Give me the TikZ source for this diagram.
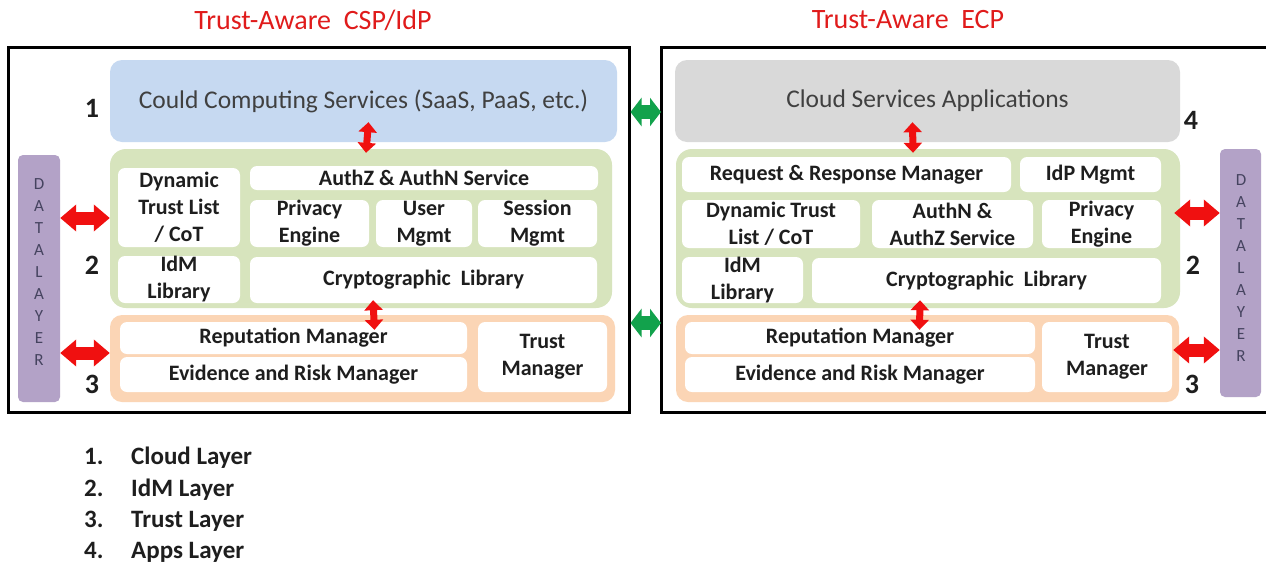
\documentclass[tikz,border=0pt]{standalone}
\usepackage{fontspec}
\setmainfont{Carlito}
\usetikzlibrary{arrows.meta}

\definecolor{cloudblue}{HTML}{C6D9F1}
\definecolor{appsgray}{HTML}{D9D9D9}
\definecolor{idmgreen}{HTML}{D7E4BD}
\definecolor{trustorange}{HTML}{FBD5B5}
\definecolor{datapurple}{HTML}{B3A2C7}
\definecolor{dataletter}{HTML}{45435F}
\definecolor{titlered}{HTML}{E01B1B}
\definecolor{arrowred}{HTML}{F01010}
\definecolor{linkgreen}{HTML}{12A24C}
\definecolor{inktext}{HTML}{1E1E1E}

% box from (x1,y1) to (x2,y2) in pixel units
\newcommand{\placebox}[7]{%
  \node[#6, minimum width={(#4)-(#2)}, minimum height={(#5)-(#3)}]
    (#1) at ({((#2)+(#4))/2},{((#3)+(#5))/2}) {#7};}

\tikzset{
  panel/.style={draw=black, line width=3pt},
  layer/.style={inner sep=0pt, rounded corners=12pt},
  cloudlayer/.style={layer, fill=cloudblue, text=inktext!85,
    font=\fontsize{25.5}{28}\selectfont},
  appslayer/.style={layer, fill=appsgray, text=inktext!85,
    font=\fontsize{25.5}{28}\selectfont},
  idmlayer/.style={layer, fill=idmgreen, rounded corners=16pt},
  trustlayer/.style={layer, fill=trustorange},
  datalayer/.style={inner sep=0pt, fill=datapurple, rounded corners=5pt},
  cell/.style={fill=white, rounded corners=7pt, inner sep=0pt, align=center,
    text=inktext, font=\bfseries\fontsize{22}{27}\selectfont},
  letters/.style={text=dataletter, align=center,
    font=\fontsize{17}{22}\selectfont},
  layernum/.style={text=inktext, font=\bfseries\fontsize{28}{30}\selectfont},
  paneltitle/.style={text=titlered, font=\fontsize{28}{30}\selectfont},
  legend/.style={anchor=base west, inner sep=0pt, text=inktext,
    font=\bfseries\fontsize{25}{27}\selectfont},
  redv/.style={draw=arrowred, line width=7pt,
    {Triangle[width=18pt,length=10pt]}-{Triangle[width=18pt,length=10pt]}},
  redh/.style={draw=arrowred, line width=13pt,
    {Triangle[width=26pt,length=16pt]}-{Triangle[width=26pt,length=16pt]}},
  greenh/.style={draw=linkgreen, line width=14pt,
    {Triangle[width=28pt,length=11pt]}-{Triangle[width=28pt,length=11pt]}},
}

\begin{document}
\begin{tikzpicture}[x=1pt, y=-1pt]
\clip (0,0) rectangle (1266,563);
\fill[white] (0,0) rectangle (1266,563);

% panel titles
\node[paneltitle] (titleL) at (313,20) {Trust-Aware\ \ CSP/IdP};
\node[paneltitle] (titleR) at (908,20) {Trust-Aware\ \ ECP};

% panel frames
\node[panel, inner sep=0pt, minimum width=621pt, minimum height=365pt]
  (panelL) at (318.5,229.5) {};
\draw[panel] (1275,47) -- (661,47) -- (661,412) -- (1275,412);
\coordinate (panelRwest) at (661,229.5);

% ---------------- CSP / IdP side ----------------
\placebox{cloudL}{110}{60}{617}{142}{cloudlayer}{Could Computing Services (SaaS, PaaS, etc.)}
\placebox{idmL}{110}{149}{612}{308}{idmlayer}{}
\placebox{dtlL}{118}{168}{240}{247}{cell}{Dynamic\\Trust List\\/ CoT}
\placebox{authL}{250}{166}{598}{190}{cell}{AuthZ \& AuthN Service}
\placebox{privL}{250}{200}{369}{247}{cell}{Privacy\\Engine}
\placebox{userL}{376}{200}{472}{247}{cell}{User\\Mgmt}
\placebox{sessL}{478}{200}{597}{247}{cell}{Session\\Mgmt}
\placebox{idmlibL}{118}{256}{240}{303}{cell}{IdM\\Library}
\placebox{cryptoL}{250}{257}{597}{303}{cell}{Cryptographic\ \ Library}
\placebox{trustL}{110}{315}{615}{402}{trustlayer}{}
\placebox{repL}{120}{322}{467}{354}{cell}{Reputation Manager}
\placebox{evL}{120}{357}{467}{392}{cell}{Evidence and Risk Manager}
\placebox{tmL}{478}{322}{607}{392}{cell}{Trust\\Manager}
\placebox{dataL}{18}{155}{60}{402}{datalayer}{}
\node[letters] (lettersL) at (39,272) {D\\A\\T\\A\\L\\A\\Y\\E\\R};

\node[layernum] (n1L) at (92,108) {1};
\node[layernum] (n2L) at (92,265) {2};
\node[layernum] (n3L) at (92,384) {3};

\draw[redv] ([xshift=5pt,yshift=20pt]cloudL.south) -- ([xshift=5pt,yshift=-4pt]idmL.north);
\draw[redv] ([xshift=12pt,yshift=8pt]idmL.south) -- ([xshift=12pt,yshift=-15pt]trustL.north);
\draw[redh] (dataL.east |- 0,218) -- (idmL.west |- 0,218);
\draw[redh] (dataL.east |- 0,353) -- (trustL.west |- 0,353);

% ---------------- ECP side ----------------
\placebox{cloudR}{675}{60}{1180}{142}{appslayer}{Cloud Services Applications}
\placebox{idmR}{676}{149}{1180}{308}{idmlayer}{}
\placebox{reqR}{682}{157}{1011}{192}{cell}{Request \& Response Manager}
\placebox{idpR}{1020}{157}{1161}{192}{cell}{IdP Mgmt}
\placebox{dtlR}{682}{200}{860}{248}{cell}{Dynamic Trust\\List / CoT}
\placebox{authR}{872}{200}{1033}{248}{cell}{AuthN \&\\AuthZ Service}
\placebox{privR}{1042}{200}{1161}{248}{cell}{Privacy\\Engine}
\placebox{idmlibR}{682}{257}{803}{303}{cell}{IdM\\Library}
\placebox{cryptoR}{812}{258}{1161}{303}{cell}{Cryptographic\ \ Library}
\placebox{trustR}{676}{315}{1179}{402}{trustlayer}{}
\placebox{repR}{685}{322}{1035}{354}{cell}{Reputation Manager}
\placebox{evR}{685}{357}{1035}{392}{cell}{Evidence and Risk Manager}
\placebox{tmR}{1042}{322}{1172}{392}{cell}{Trust\\Manager}
\placebox{dataR}{1220}{149}{1261}{397}{datalayer}{}
\node[letters] (lettersR) at (1241,268) {D\\A\\T\\A\\L\\A\\Y\\E\\R};

\node[layernum] (n4R) at (1191,120) {4};
\node[layernum] (n2R) at (1193,265) {2};
\node[layernum] (n3R) at (1192,384) {3};

\draw[redv] ([xshift=-15pt,yshift=20pt]cloudR.south) -- ([xshift=-15pt,yshift=-4pt]idmR.north);
\draw[redv] ([xshift=-8pt,yshift=8pt]idmR.south) -- ([xshift=-8pt,yshift=-15pt]trustR.north);
\draw[redh] ([xshift=-6pt]idmR.east |- 0,213) -- (dataR.west |- 0,213);
\draw[redh] ([xshift=-6pt]trustR.east |- 0,350) -- (dataR.west |- 0,350);

% links between the two sides
\draw[greenh] (panelL.east |- 0,112) -- (panelRwest |- 0,112);
\draw[greenh] (panelL.east |- 0,323) -- (panelRwest |- 0,323);

% legend
\node[legend] (k1) at (84,464) {1.};
\node[legend] (k2) at (84,496) {2.};
\node[legend] (k3) at (84,527) {3.};
\node[legend] (k4) at (84,558) {4.};
\node[legend] (l1) at (131,464) {Cloud Layer};
\node[legend] (l2) at (131,496) {IdM Layer};
\node[legend] (l3) at (131,527) {Trust Layer};
\node[legend] (l4) at (131,558) {Apps Layer};
\end{tikzpicture}
\end{document}
